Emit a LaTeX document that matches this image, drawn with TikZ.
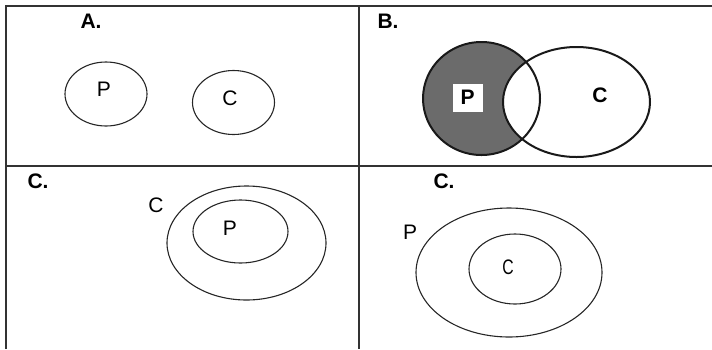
\documentclass[tikz,border=0pt]{standalone}
\usepackage{fontspec}
\setmainfont{Liberation Sans}
\begin{document}
\begin{tikzpicture}[x=1pt,y=-1pt,
  grid/.style={line width=1.8pt,draw=black!80},
  thin/.style={line width=1.1pt,draw=black!85},
  thick/.style={line width=2pt,draw=black!90},
  lab/.style={font=\fontsize{21}{21}\selectfont\bfseries,inner sep=0pt},
  txt/.style={font=\fontsize{21}{21}\selectfont,inner sep=0pt}]
\useasboundingbox (0,0) rectangle (712,349);
% grid
\draw[grid] (6,349) -- (6,6) -- (712,6);
\draw[grid] (6,166) -- (712,166);
\draw[grid] (359,6) -- (359,349);
% Panel A
\node[lab] (la) at (91,21) {A.};
\draw[thin] (106,94) ellipse [x radius=41,y radius=32];
\node[txt] (pa) at (104,89) {P};
\draw[thin] (233.5,102.5) ellipse [x radius=41,y radius=32];
\node[txt] (ca) at (230,98) {C};
% Panel B
\node[lab] (lb) at (388,21) {B.};
\fill[black!58] (481.5,98.5) ellipse [x radius=58.5,y radius=56.5];
\begin{scope}
  \clip (576.5,102) ellipse [x radius=73.5,y radius=55];
  \fill[white] (481.5,98.5) ellipse [x radius=58.5,y radius=56.5];
\end{scope}
\draw[thick] (481.5,98.5) ellipse [x radius=58.5,y radius=56.5];
\draw[thick] (576.5,102) ellipse [x radius=73.5,y radius=55];
\node[lab,fill=white,minimum width=30pt,minimum height=28pt] (pb) at (467.5,97.5) {P};
\node[lab] (cb) at (600,95) {C};
% Panel C (bottom left)
\node[lab] (lc) at (38,181) {C.};
\node[txt] (cc) at (156,205) {C};
\draw[thin] (246.5,243) ellipse [x radius=79.5,y radius=57];
\draw[thin] (240.5,231.5) ellipse [x radius=47.5,y radius=31.5];
\node[txt] (pc) at (230,228) {P};
% Panel D (bottom right)
\node[lab] (ld) at (444,181) {C.};
\node[txt] (pd) at (410,232) {P};
\draw[thin] (509,272.5) ellipse [x radius=93,y radius=64.5];
\draw[thin] (515,269) ellipse [x radius=46,y radius=35];
\node[txt,xscale=0.75] (cd) at (508,267) {C};
\end{tikzpicture}
\end{document}
